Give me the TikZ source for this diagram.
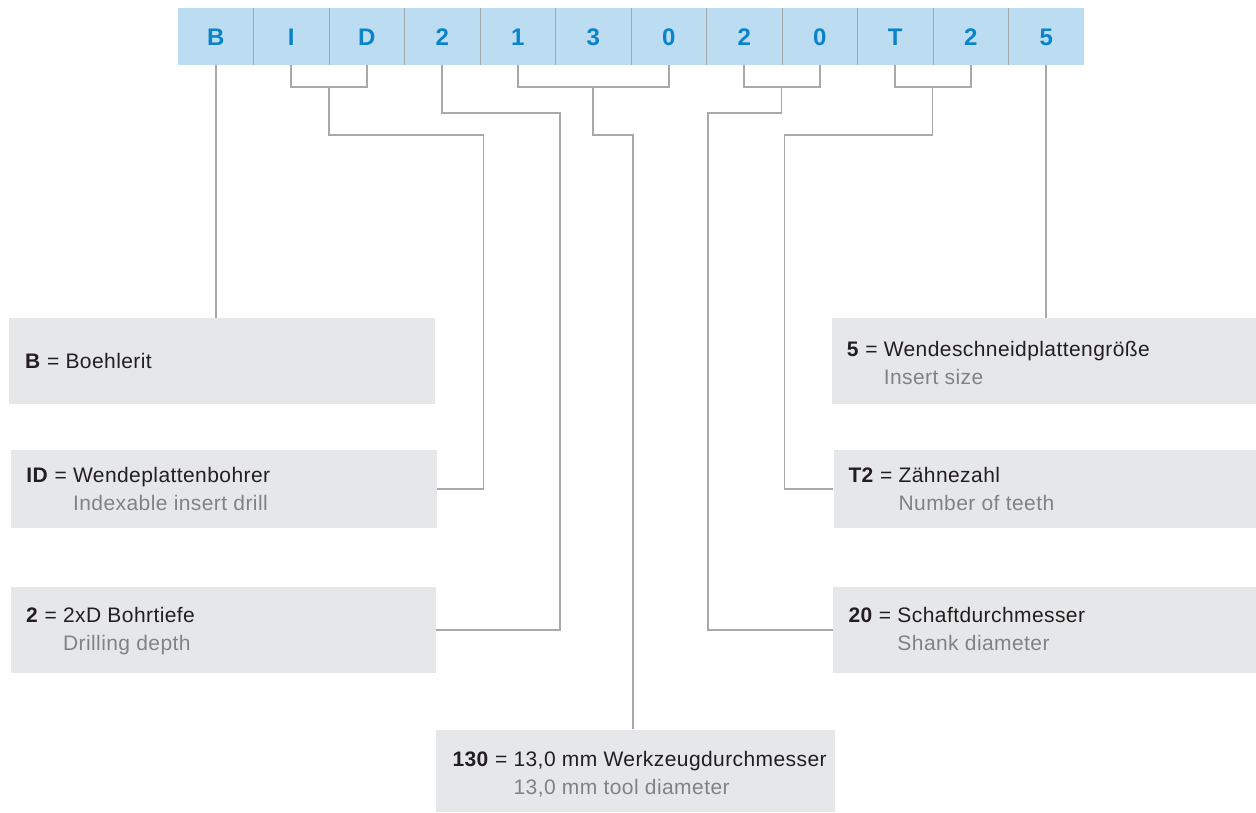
\documentclass[tikz,border=0pt]{standalone}
\usepackage{fontspec}
\setmainfont{Liberation Sans}[LetterSpace=2]
\newfontfamily\barfont{Liberation Sans}
\definecolor{barblue}{HTML}{BBDCF1}
\definecolor{letterblue}{HTML}{0A84C8}
\definecolor{boxgray}{HTML}{E6E7E8}
\definecolor{linegray}{HTML}{A7A9AC}
\definecolor{sepgray}{HTML}{A3A8AD}
\definecolor{txt}{HTML}{231F20}
\definecolor{subtxt}{HTML}{808285}
\newcommand\entrytext[3]{\textbf{#1} = \begin{tabular}[t]{@{}l@{}}#2\\\textcolor{subtxt}{#3}\end{tabular}}
\begin{document}
\begin{tikzpicture}[x=1pt,y=-1pt,
  cell/.style={minimum width=75.5pt, minimum height=56.3pt, inner sep=0pt, fill=barblue,
    text=letterblue, font=\barfont\fontsize{24}{24}\selectfont\bfseries, text height=17.4pt, text depth=0pt},
  sepline/.style={draw=sepgray, line width=1.2pt},
  infobox/.style={fill=boxgray, draw=none, inner sep=0pt, anchor=north west},
  entry/.style={anchor=base west, inner sep=0pt, text=txt, font=\fontsize{21}{28}\selectfont},
  conn/.style={draw=linegray, line width=1.6pt}]
\useasboundingbox (0,0) rectangle (1256,812);
\fill[white] (0,0) rectangle (1256,812);

% code bar
\foreach \t [count=\i] in {B,I,D,2,1,3,0,2,0,T,2,5}
  \node[cell] (c\i) at ({178+75.5*(\i-0.5)},36.5) {\t};
\foreach \i in {1,...,11}
  \draw[sepline] (c\i.north east) -- (c\i.south east);

% boxes
\node[infobox, minimum width=426pt, minimum height=85.7pt] (bB) at (9,318) {};
\node[infobox, minimum width=425.7pt, minimum height=77.7pt] (bID) at (11,450) {};
\node[infobox, minimum width=424.7pt, minimum height=85.5pt] (b2) at (11,587) {};
\node[infobox, minimum width=399pt, minimum height=82.7pt] (b130) at (436,729.3) {};
\node[infobox, minimum width=424pt, minimum height=85.7pt] (b5) at (832,318) {};
\node[infobox, minimum width=422.7pt, minimum height=77.7pt] (bT2) at (833.3,450) {};
\node[infobox, minimum width=423pt, minimum height=85.5pt] (b20) at (833,587) {};

% texts
\node[entry] (tB) at (25,368) {\textbf{B} = Boehlerit};
\node[entry] (tID) at (26.3,482.3) {\entrytext{ID}{Wendeplattenbohrer}{Indexable insert drill}};
\node[entry] (t2) at (26,622.3) {\entrytext{2}{2xD Bohrtiefe}{Drilling depth}};
\node[entry] (t130) at (452.3,766) {\entrytext{130}{13,0 mm Werkzeugdurchmesser}{13,0 mm tool diameter}};
\node[entry] (t5) at (846.7,356.3) {\entrytext{5}{Wendeschneidplattengröße}{Insert size}};
\node[entry] (tT2) at (848.3,482.3) {\entrytext{T2}{Zähnezahl}{Number of teeth}};
\node[entry] (t20) at (848.3,622.3) {\entrytext{20}{Schaftdurchmesser}{Shank diameter}};

% helper coordinates
\coordinate (yb) at (0,87);
\coordinate (kID) at (328.75,87);
\coordinate (k130) at (592.75,87);
\coordinate (k20) at (781.5,87);
\coordinate (kT2) at (932.5,87);
\coordinate (k130b) at (632.7,135);

% connectors
\draw[conn] (c1.south) -- (c1.south |- bB.north);
\draw[conn] (c2.south) -- (c2.south |- yb) -- (c3.south |- yb) -- (c3.south);
\draw[conn] (kID) |- (483.3,135) |- (bID.east);
\draw[conn] (c4.south) |- (560,112.7) |- (b2.east);
\draw[conn] (c5.south) -- (c5.south |- yb) -- (c7.south |- yb) -- (c7.south);
\draw[conn] (k130) |- (k130b) -- (k130b |- b130.north);
\draw[conn] (c8.south) -- (c8.south |- yb) -- (c9.south |- yb) -- (c9.south);
\draw[conn] (k20) |- (707.7,112.7) |- (b20.west);
\draw[conn] (c10.south) -- (c10.south |- yb) -- (c11.south |- yb) -- (c11.south);
\draw[conn] (kT2) |- (784.3,135) |- (bT2.west);
\draw[conn] (c12.south) -- (c12.south |- b5.north);
\end{tikzpicture}
\end{document}
